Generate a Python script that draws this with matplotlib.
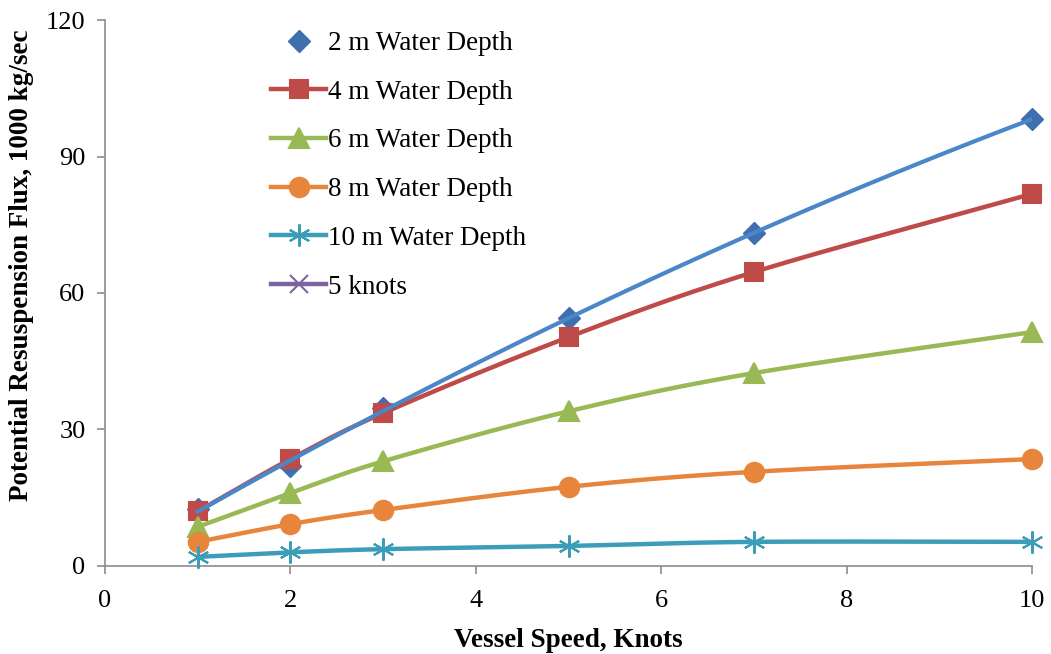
import numpy as np
import matplotlib
matplotlib.use("Agg")
import matplotlib.pyplot as plt

plt.rcParams['font.family'] = ['Liberation Serif', 'DejaVu Serif']

speed = [1, 2, 3, 5, 7, 10]
flux_2m = [12.5, 22.0, 34.7, 54.5, 73.2, 98.2]
flux_4m = [12.0, 23.5, 33.6, 50.3, 64.6, 81.8]
flux_6m = [8.6, 16.0, 23.0, 34.0, 42.4, 51.4]
flux_8m = [5.3, 9.2, 12.3, 17.4, 20.7, 23.5]
flux_10m = [2.0, 3.0, 3.7, 4.4, 5.3, 5.3]


def smooth(x, y, n=30):
    # catmull-rom style smoothing like excel "smoothed line"
    x = np.asarray(x, float)
    y = np.asarray(y, float)
    px = np.concatenate([[2 * x[0] - x[1]], x, [2 * x[-1] - x[-2]]])
    py = np.concatenate([[2 * y[0] - y[1]], y, [2 * y[-1] - y[-2]]])
    xs, ys = [], []
    t = np.linspace(0, 1, n)
    for i in range(1, len(px) - 2):
        p0, p1, p2, p3 = [np.array([px[j], py[j]]) for j in range(i - 1, i + 3)]
        c1 = p1 + (p2 - p0) / 6
        c2 = p2 - (p3 - p1) / 6
        pts = ((1 - t) ** 3)[:, None] * p1 + (3 * (1 - t) ** 2 * t)[:, None] * c1 \
            + (3 * (1 - t) * t ** 2)[:, None] * c2 + (t ** 3)[:, None] * p2
        xs.extend(pts[:, 0])
        ys.extend(pts[:, 1])
    return xs, ys


fig = plt.figure(figsize=(10.51, 6.54), dpi=100)
ax = fig.add_axes([0.0999, 0.1346, 0.8821, 0.8348])

lw = 3.2
series = [
    (flux_4m, '#BE4B48', 's', 13, '4 m Water Depth'),
    (flux_6m, '#98B954', '^', 14, '6 m Water Depth'),
    (flux_8m, '#E8853C', 'o', 14, '8 m Water Depth'),
    (flux_10m, '#3C9DB8', (6, 2, 0), 16, '10 m Water Depth'),
]

handles = []
h2, = ax.plot(speed, flux_2m, linestyle='none', marker='D', markersize=11,
              color='#3F6FAE', label='2 m Water Depth', zorder=4, clip_on=False)
handles.append(h2)
for ys, col, mk, ms, lab in series:
    sx, sy = smooth(speed, ys)
    ax.plot(sx, sy, color=col, lw=lw, zorder=3)
    ax.plot(speed, ys, linestyle='none', marker=mk, markersize=ms, color=col,
            markeredgewidth=1.5, zorder=4, clip_on=False)
    h, = ax.plot([], [], color=col, lw=lw, marker=mk, markersize=ms,
                 markeredgewidth=1.5, label=lab)
    handles.append(h)
h5, = ax.plot([], [], color='#7F62A0', lw=lw, marker='x', markersize=13,
              markeredgewidth=1.5, label='5 knots')
handles.append(h5)

# trendline for 2 m series
coef = np.polyfit(speed, flux_2m, 2)
tx = np.linspace(1, 10, 100)
ax.plot(tx, np.polyval(coef, tx), color='#4A86C8', lw=3, zorder=5)

ax.set_xlim(0, 10)
ax.set_ylim(0, 120)
ax.set_xticks([0, 2, 4, 6, 8, 10])
ax.set_yticks([0, 30, 60, 90, 120])
for s in ['top', 'right']:
    ax.spines[s].set_visible(False)
for s in ['left', 'bottom']:
    ax.spines[s].set_color('#8C8C8C')
    ax.spines[s].set_linewidth(1.2)
ax.tick_params(direction='out', length=6, color='#8C8C8C', width=1.2,
               labelsize=19, pad=8)
ax.tick_params(axis='x', pad=11)

ax.set_xlabel('Vessel Speed, Knots', fontsize=19.5, fontweight='bold', labelpad=12)
ax.set_ylabel('Potential Resuspension Flux, 1000 kg/sec', fontsize=19.5,
              fontweight='bold')
ax.yaxis.set_label_coords(-0.077, 0.551)

ax.legend(handles=handles, loc='upper left', bbox_to_anchor=(0.1533, 1.0245),
          frameon=False, fontsize=19.5, handlelength=2.0, handletextpad=0.1,
          labelspacing=0.875)

fig.savefig('out.png', dpi=100)
